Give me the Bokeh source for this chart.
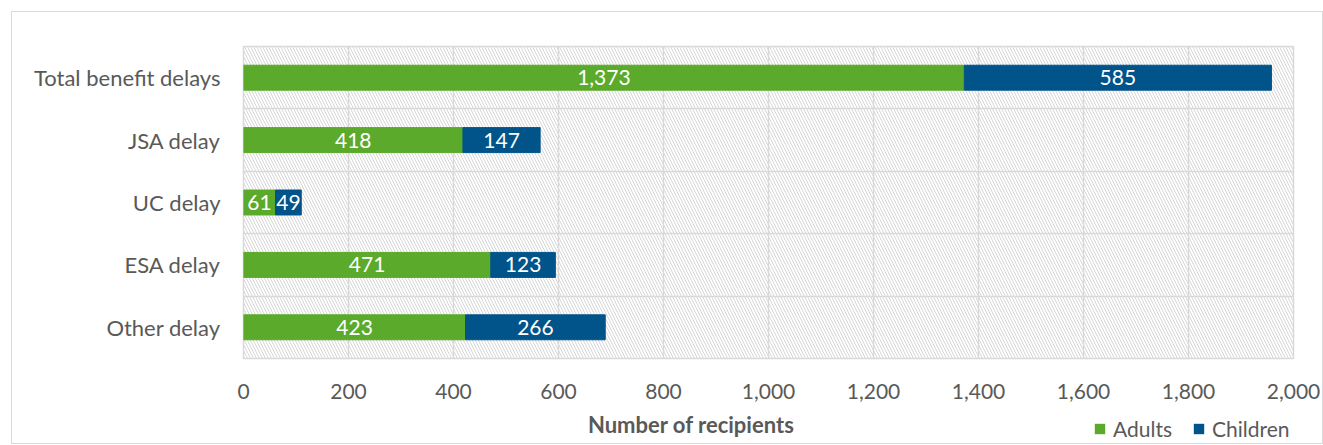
from bokeh.plotting import figure
from bokeh.layouts import column
from bokeh.models import (ColumnDataSource, FixedTicker, NumeralTickFormatter, Range1d,
                          BoxAnnotation, Legend, LegendItem, Label)
from bokeh.core.properties import value
from bokeh.embed import file_html
from bokeh.resources import INLINE

categories = ["Total benefit delays", "JSA delay", "UC delay", "ESA delay", "Other delay"]
adults = [1373, 418, 61, 471, 423]
children = [585, 147, 49, 123, 266]
x_ticks = [0, 200, 400, 600, 800, 1000, 1200, 1400, 1600, 1800, 2000]

GREEN = "#5BAA2B"
BLUE = "#00548A"
GRID = "#D9D9D9"
FONT = "Lato"
FS = "22px"

n = len(categories)
ypos = [n - 0.5 - i for i in range(n)]

src = ColumnDataSource(dict(
    y=ypos,
    cat=categories,
    adults=adults,
    children=children,
    total=[a + c for a, c in zip(adults, children)],
    a_mid=[a / 2 for a in adults],
    c_mid=[a + c / 2 for a, c in zip(adults, children)],
    a_lbl=[f"{a:,}" for a in adults],
    c_lbl=[f"{c:,}" for c in children],
))

W = 1310
p = figure(width=W, height=393, output_backend="svg", toolbar_location=None,
           x_range=Range1d(0, 2000), y_range=Range1d(0, n),
           min_border_left=231, min_border_right=29,
           min_border_top=34, min_border_bottom=47)
p.outline_line_color = GRID
p.outline_line_width = 1.5

bg = BoxAnnotation(fill_alpha=0, line_alpha=0, hatch_pattern="\\", hatch_color="#D6D6D6",
                   hatch_scale=6, hatch_weight=1, level="image")
p.add_layout(bg)

r1 = p.hbar(y="y", left=0, right="adults", height=0.4, color=GREEN, source=src)
r2 = p.hbar(y="y", left="adults", right="total", height=0.4, color=BLUE, source=src)

p.text(x="a_mid", y="y", text="a_lbl", source=src, text_color="white",
       text_align="center", text_baseline="middle", text_font=value(FONT), text_font_size="21px")
p.text(x="c_mid", y="y", text="c_lbl", source=src, text_color="white",
       text_align="center", text_baseline="middle", text_font=value(FONT), text_font_size="21px")

p.xaxis.ticker = FixedTicker(ticks=x_ticks)
p.xaxis.formatter = NumeralTickFormatter(format="0,0")
p.yaxis.ticker = FixedTicker(ticks=ypos)
p.yaxis.major_label_overrides = {y: c for y, c in zip(ypos, categories)}
for ax in (p.xaxis[0], p.yaxis[0]):
    ax.axis_line_color = None
    ax.major_tick_line_color = None
    ax.minor_tick_line_color = None
    ax.major_label_text_font = FONT
    ax.major_label_text_color = "#595959"
p.yaxis.major_label_text_font_size = FS
p.xaxis.major_label_text_font_size = "21px"
p.yaxis.major_label_standoff = 17
p.xaxis.major_label_standoff = 19

p.xgrid.ticker = FixedTicker(ticks=x_ticks)
p.ygrid.ticker = FixedTicker(ticks=list(range(n + 1)))
p.grid.grid_line_color = GRID
p.grid.grid_line_width = 1.5

# bottom strip: axis title and legend (same x scale as the chart)
p2 = figure(width=W, height=38, output_backend="svg", toolbar_location=None,
            x_range=p.x_range, y_range=Range1d(-101, -100),
            x_axis_location=None, y_axis_location=None,
            min_border_left=231, min_border_right=29, min_border_top=0, min_border_bottom=0)
p2.outline_line_color = None
p2.grid.visible = False

p2.add_layout(Label(x=853, y=-100.5, text="Number of recipients", text_font=FONT,
                    text_font_size=FS, text_font_style="bold", text_color="#595959",
                    text_align="center", text_baseline="middle"))

# legend proxy renderers (zero size, no outline: nothing is drawn in the strip)
la = p2.hbar(y="y", left="adults", right="adults", height=0, fill_color=GREEN,
             line_color=None, source=src)
lc = p2.hbar(y="y", left="total", right="total", height=0, fill_color=BLUE,
             line_color=None, source=src)
legend = Legend(items=[LegendItem(label="Adults", renderers=[la]),
                       LegendItem(label="Children", renderers=[lc])],
                orientation="horizontal", location=(850, 2),
                border_line_color=None, background_fill_alpha=0,
                padding=0, margin=0, spacing=20, label_standoff=7,
                glyph_width=13, glyph_height=13, label_height=20,
                label_text_font=FONT, label_text_font_size="21px", label_text_color="#595959")
p2.add_layout(legend)

lay = column(p, p2, spacing=0,
             styles={"border": "1px solid #D9D9D9", "margin-left": "11px", "margin-top": "11px"})

open("out.html", "w").write(file_html(lay, INLINE))
